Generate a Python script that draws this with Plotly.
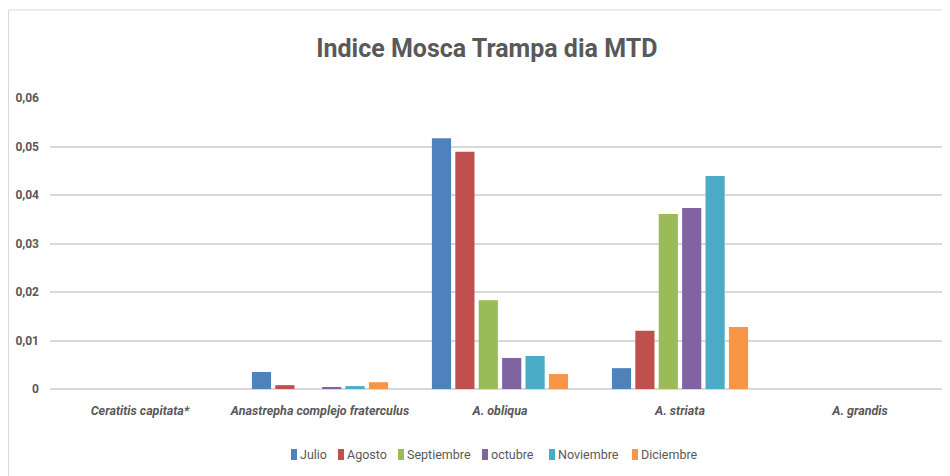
import plotly.graph_objects as go

categories = ["Ceratitis capitata*", "Anastrepha complejo fraterculus", "A. obliqua", "A. striata", "A. grandis"]
months = ["Julio", "Agosto", "Septiembre", "octubre", "Noviembre", "Diciembre"]
julio = [0, 0.0035, 0.0517, 0.0043, 0]
agosto = [0, 0.0008, 0.0489, 0.0120, 0]
septiembre = [0, 0, 0.0183, 0.0361, 0]
octubre = [0, 0.0004, 0.0064, 0.0373, 0]
noviembre = [0, 0.0006, 0.0068, 0.0439, 0]
diciembre = [0, 0.0014, 0.0031, 0.0128, 0]
tick_vals = [0, 0.01, 0.02, 0.03, 0.04, 0.05, 0.06]
tick_text = ["0", "0,01", "0,02", "0,03", "0,04", "0,05", "0,06"]

series = [julio, agosto, septiembre, octubre, noviembre, diciembre]
colors = ["#4F81BD", "#C0504D", "#9BBB59", "#8064A2", "#4BACC6", "#F79646"]

FONT = "Roboto, Liberation Sans, sans-serif"
GREY = "#595959"

# page has an 8px body margin; compensate in margins
L, R, T, B = 42, 8, 90, 95
PH = 476 - T - B
PW = 950 - L - R

def px_x(sx):  # screen x -> paper x
    return (sx - 8 - L) / PW

def px_y(sy):  # screen y -> paper y
    return (476 - B - (sy - 8)) / PH

fig = go.Figure()
for name, vals, c in zip(months, series, colors):
    fig.add_trace(go.Bar(x=categories, y=vals, name=name, marker_color=c,
                         marker_line_width=0, showlegend=False))

# compact Excel-style legend (small swatch right next to the text)
legend_swatch_x = [291, 338, 398, 482, 549, 632]
shapes = [dict(type="rect", xref="paper", yref="paper",
               x0=(0.5 - L) / PW, x1=1.1, y0=-0.5, y1=(476 - B - 2) / PH,
               line=dict(color="#D9D9D9", width=1), fillcolor="rgba(0,0,0,0)", layer="below")]
annotations = []
for name, c, sx in zip(months, colors, legend_swatch_x):
    shapes.append(dict(type="rect", xref="paper", yref="paper",
                       x0=px_x(sx), x1=px_x(sx + 6), y0=px_y(460), y1=px_y(449),
                       fillcolor=c, line=dict(width=0)))
    annotations.append(dict(text=name, xref="paper", yref="paper", x=px_x(sx + 7),
                            y=px_y(454.5), xanchor="left", yanchor="middle", showarrow=False,
                            font=dict(family=FONT, size=12.5, color=GREY)))

fig.update_layout(
    width=950, height=476,
    margin=dict(l=L, r=R, t=T, b=B),
    paper_bgcolor="white", plot_bgcolor="white",
    barmode="group", bargap=0.22, bargroupgap=0.18,
    font=dict(family=FONT, color=GREY, size=13),
    title=dict(text="Indice Mosca Trampa dia MTD", x=0.504, xanchor="center",
               y=0.916, yanchor="middle",
               font=dict(family=FONT, size=25, color=GREY, weight="bold")),
    xaxis=dict(showgrid=False, showline=False, ticks="", ticklabelstandoff=12,
               tickfont=dict(family=FONT, size=12.5, color=GREY, style="italic", weight="bold")),
    yaxis=dict(range=[0, 0.06], tickvals=tick_vals, ticktext=tick_text,
               gridcolor="#D9D9D9", gridwidth=1.5, zeroline=True, zerolinecolor="#D9D9D9",
               zerolinewidth=1.5, showline=False, ticks="", ticklabelstandoff=10,
               tickfont=dict(family=FONT, size=12, color=GREY, weight="bold")),
    shapes=shapes,
    annotations=annotations,
)

fig.write_html("out.html")
